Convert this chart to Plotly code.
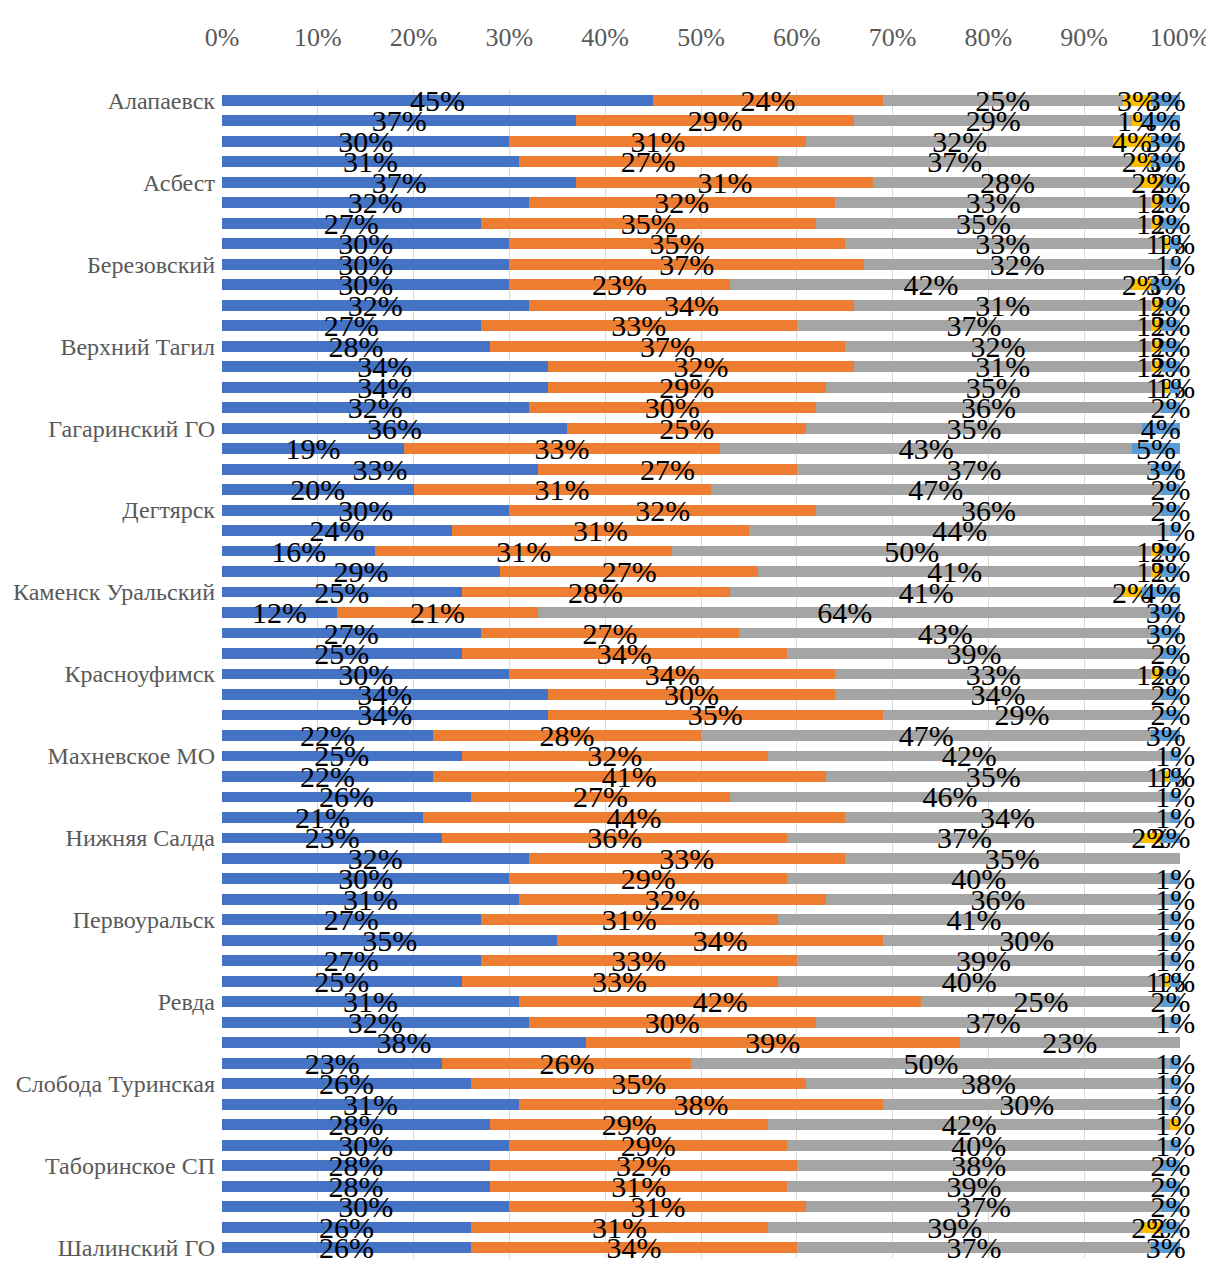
import plotly.graph_objects as go

categories = [
    "Алапаевск", "Алапаевское МО", "Арамильский ГО", "Артемовский ГО",
    "Асбест", "Ачитский ГО", "Байкаловский МР", "Белоярский ГО",
    "Березовский", "Бисертский ГО", "Богданович", "Верхнесалдинский ГО",
    "Верхний Тагил", "Верхняя Пышма", "Верхняя Тура", "Верхотурский ГО",
    "Гагаринский ГО", "Гаринский ГО", "Горноуральский ГО", "ГО Верхнее Дуброво",
    "Дегтярск", "Екатеринбург", "Заречный", "Ивдельский ГО",
    "Каменск Уральский", "Каменский ГО", "Камышлов", "Кировград",
    "Красноуфимск", "Красноуральск", "Кушва", "Малышевский ГО",
    "Махневское МО", "Невьянский ГО", "Нижнесергинский МР", "Нижний Тагил",
    "Нижняя Салда", "Новая Ляля", "Новоуральск", "Пелым",
    "Первоуральск", "Полевской", "Пригородный", "Пышминский ГО",
    "Ревда", "Режевской ГО", "Североуральск", "Серов",
    "Слобода Туринская", "Среднеуральск", "Сухой Лог", "Сысертский ГО",
    "Таборинское СП", "Тавда", "Талицкий ГО", "Туринский ГО",
    "Шалинский ГО",
]

blue = [45, 37, 30, 31, 37, 32, 27, 30, 30, 30, 32, 27, 28, 34, 34, 32, 36, 19, 33, 20,
        30, 24, 16, 29, 25, 12, 27, 25, 30, 34, 34, 22, 25, 22, 26, 21, 23, 32, 30, 31,
        27, 35, 27, 25, 31, 32, 38, 23, 26, 31, 28, 30, 28, 28, 30, 26, 26]
orange = [24, 29, 31, 27, 31, 32, 35, 35, 37, 23, 34, 33, 37, 32, 29, 30, 25, 33, 27, 31,
          32, 31, 31, 27, 28, 21, 27, 34, 34, 30, 35, 28, 32, 41, 27, 44, 36, 33, 29, 32,
          31, 34, 33, 33, 42, 30, 39, 26, 35, 38, 29, 29, 32, 31, 31, 31, 34]
gray = [25, 29, 32, 37, 28, 33, 35, 33, 32, 42, 31, 37, 32, 31, 35, 36, 35, 43, 37, 47,
        36, 44, 50, 41, 41, 64, 43, 39, 33, 34, 29, 47, 42, 35, 46, 34, 37, 35, 40, 36,
        41, 30, 39, 40, 25, 37, 23, 50, 38, 30, 42, 40, 38, 39, 37, 39, 37]
yellow = [3, 1, 4, 2, 2, 1, 1, 1, 0, 2, 1, 1, 1, 1, 1, 0, 0, 0, 0, 0,
          0, 0, 1, 1, 2, 0, 0, 0, 1, 0, 0, 0, 0, 1, 0, 0, 2, 0, 0, 0,
          0, 0, 0, 1, 0, 0, 0, 0, 0, 0, 1, 0, 0, 0, 0, 2, 0]
lightblue = [3, 4, 3, 3, 2, 2, 2, 1, 1, 3, 2, 2, 2, 2, 1, 2, 4, 5, 3, 2,
             2, 1, 2, 2, 4, 3, 3, 2, 2, 2, 2, 3, 1, 1, 1, 1, 2, 0, 1, 1,
             1, 1, 1, 1, 2, 1, 0, 1, 1, 1, 0, 1, 2, 2, 2, 2, 3]

series = [
    ("Ряд1", blue, "#4472C4"),
    ("Ряд2", orange, "#ED7D31"),
    ("Ряд3", gray, "#A5A5A5"),
    ("Ряд4", yellow, "#FFC000"),
    ("Ряд5", lightblue, "#5B9BD5"),
]

x_ticks = list(range(0, 101, 10))
shown_labels = categories[::4]

fig = go.Figure()
for name, vals, color in series:
    fig.add_trace(go.Bar(
        name=name,
        y=categories,
        x=vals,
        orientation="h",
        marker=dict(color=color, line=dict(width=0)),
        text=[f"{v}%" for v in vals],
        textposition="inside",
        insidetextanchor="middle",
        textangle=0,
        constraintext="none",
        cliponaxis=False,
        textfont=dict(family="Liberation Serif", size=30, color="#000000"),
    ))

fig.update_layout(
    barmode="stack",
    bargap=0.47,
    width=1214,
    height=1268,
    margin=dict(l=214, r=42, t=82, b=18, autoexpand=False),
    paper_bgcolor="white",
    plot_bgcolor="white",
    showlegend=False,
    uniformtext=dict(mode="show", minsize=30),
    xaxis=dict(
        side="top",
        range=[0, 100],
        tickmode="array",
        tickvals=x_ticks,
        ticktext=[f"{t}%" for t in x_ticks],
        showgrid=True,
        gridcolor="#D9D9D9",
        gridwidth=1,
        zeroline=False,
        showline=False,
        ticks="",
        automargin=False,
        ticklabelstandoff=38,
        tickfont=dict(family="Liberation Serif", size=26, color="#595959"),
    ),
    yaxis=dict(
        type="category",
        autorange="reversed",
        tickmode="array",
        tickvals=shown_labels,
        ticktext=shown_labels,
        showgrid=False,
        zeroline=False,
        showline=False,
        ticks="",
        automargin=False,
        ticklabelstandoff=6,
        tickfont=dict(family="Liberation Serif", size=24, color="#595959"),
    ),
)

fig.write_html("out.html")
